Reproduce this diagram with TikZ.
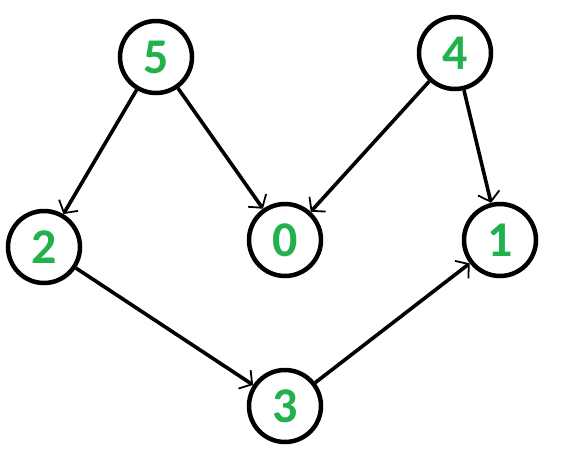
\documentclass[tikz,border=0pt]{standalone}
\usepackage{fontspec}
\setmainfont{Carlito}
\usetikzlibrary{arrows.meta}
\definecolor{numgreen}{HTML}{22B14C}
\begin{document}
\begin{tikzpicture}[x=1pt,y=-1pt,
  vert/.style={circle,draw=black,line width=4.5pt,minimum size=72pt,inner sep=0pt,
    font=\fontsize{50}{50}\selectfont\bfseries,text=numgreen},
  edge/.style={line width=3.6pt,-{Straight Barb[length=9pt,width=22pt,line width=1.8pt]}}]
\useasboundingbox (0,0) rectangle (565,456);
\node[vert] (n5) at (156,57) {5};
\node[vert] (n4) at (455,53) {4};
\node[vert] (n2) at (44,247) {2};
\node[vert] (n0) at (285,240) {0};
\node[vert] (n1) at (500,240) {1};
\node[vert] (n3) at (285,406) {3};
\draw[edge] (n5) -- (n2);
\draw[edge] (n5) -- (n0);
\draw[edge] (n4) -- (n0);
\draw[edge] (n4) -- (n1);
\draw[edge] (n2) -- (n3);
\draw[edge] (n3) -- (n1);
\end{tikzpicture}
\end{document}
